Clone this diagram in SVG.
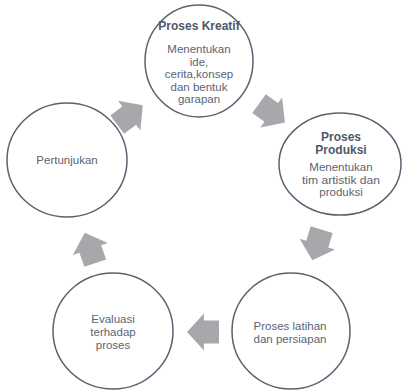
<svg xmlns="http://www.w3.org/2000/svg" width="402" height="390" viewBox="0 0 402 390">
<defs>
<style>
.node{fill:#ffffff;stroke:#5a6170;stroke-width:1.5}
.t{font-family:"Liberation Sans",Arial,sans-serif;font-size:11.5px;fill:#5b6475;text-anchor:middle}
.b{font-weight:bold;font-size:12px;fill:#4f5868}
.arr{fill:#a6a8ab}
</style>
<polygon id="arrow" class="arr" points="-16,-11.5 -1,-11.5 -1,-18.5 16,0 -1,18.5 -1,11.5 -16,11.5"/>
</defs>
<rect width="402" height="390" fill="#ffffff"/>
<g id="connectors">
<use href="#arrow" transform="translate(130,115) rotate(-37)"/>
<use href="#arrow" transform="translate(272,113) rotate(36)"/>
<use href="#arrow" transform="translate(317,245) rotate(107)"/>
<use href="#arrow" transform="translate(203,332) rotate(180)"/>
<use href="#arrow" transform="translate(90,248) rotate(-109)"/>
</g>
<g id="kreatif">
<ellipse class="node" cx="199" cy="61" rx="54" ry="56"/>
<text class="t b" x="199" y="30">Proses Kreatif</text>
<text class="t" x="199" y="53">Menentukan</text>
<text class="t" x="199" y="65.5">ide,</text>
<text class="t" x="199" y="78">cerita,konsep</text>
<text class="t" x="199" y="90.5">dan bentuk</text>
<text class="t" x="199" y="103">garapan</text>
</g>
<g id="produksi">
<ellipse class="node" cx="340" cy="164" rx="61" ry="51"/>
<text class="t b" x="341" y="141">Proses</text>
<text class="t b" x="341" y="154">Produksi</text>
<text class="t" x="341" y="171">Menentukan</text>
<text class="t" x="341" y="183.5" textLength="78" lengthAdjust="spacingAndGlyphs">tim artistik dan</text>
<text class="t" x="341" y="196">produksi</text>
</g>
<g id="latihan">
<ellipse class="node" cx="291" cy="331" rx="59" ry="58"/>
<text class="t" x="290" y="330">Proses latihan</text>
<text class="t" x="290" y="342.5">dan persiapan</text>
</g>
<g id="evaluasi">
<ellipse class="node" cx="113" cy="331" rx="60" ry="58"/>
<text class="t" x="113" y="323">Evaluasi</text>
<text class="t" x="113" y="336">terhadap</text>
<text class="t" x="113" y="349">proses</text>
</g>
<g id="pertunjukan">
<ellipse class="node" cx="67" cy="160" rx="60" ry="57"/>
<text class="t" x="67" y="164">Pertunjukan</text>
</g>
</svg>
